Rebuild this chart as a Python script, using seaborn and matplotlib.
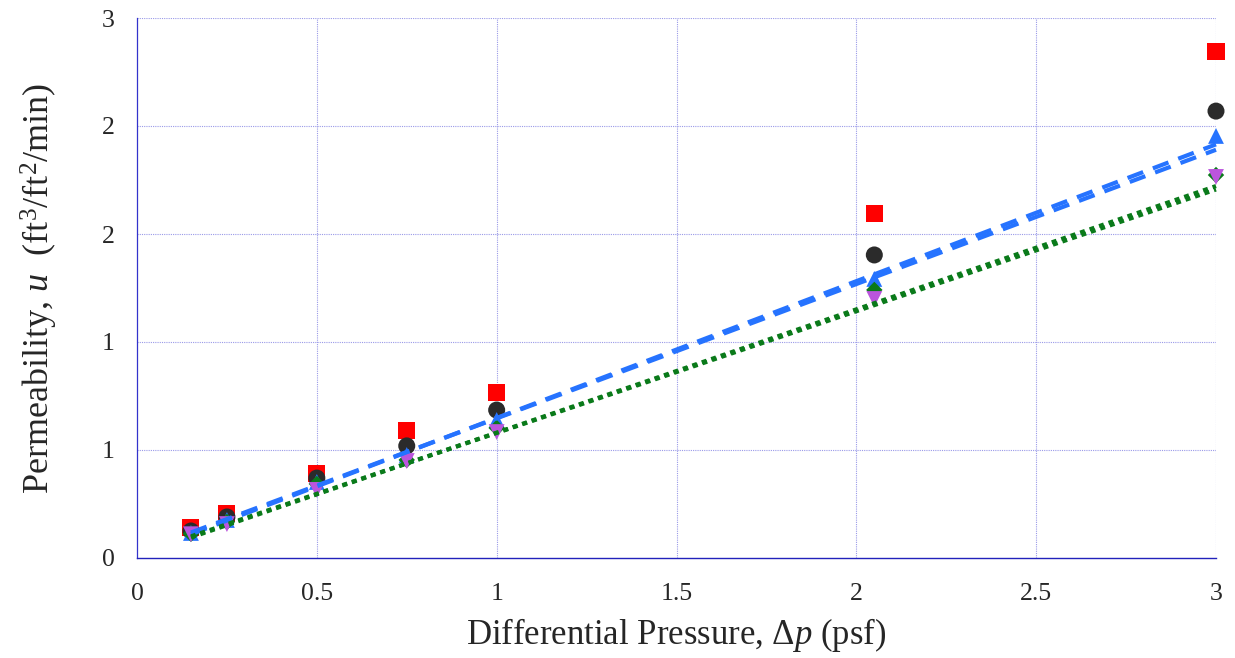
import numpy as np
import pandas as pd
import seaborn as sns
from matplotlib import pyplot as plt

# measured points
dp = [0.15, 0.25, 0.5, 0.75, 1.0, 2.05, 3.0]
u_square = [0.139, 0.208, 0.389, 0.588, 0.764, 1.597, 2.343]
u_circle = [0.125, 0.190, 0.370, 0.519, 0.685, 1.403, 2.069]
u_tri_up = [0.116, 0.176, 0.352, 0.477, 0.639, 1.292, 1.954]
u_diamond = [0.112, 0.167, 0.343, 0.454, 0.602, 1.241, 1.773]
u_tri_down = [0.110, 0.157, 0.315, 0.449, 0.583, 1.199, 1.764]

# fitted lines (end values)
fit_dp = [0.15, 3.0]
fit_blue_a = [0.110, 1.915]
fit_blue_b = [0.118, 1.890]
fit_green_a = [0.095, 1.722]
fit_green_b = [0.100, 1.706]

yticks = [0, 0.5, 1.0, 1.5, 2.0, 2.5]
ytick_labels = ["0", "1", "1", "2", "2", "3"]
xticks = [0, 0.5, 1, 1.5, 2, 2.5, 3]
xtick_labels = ["0", "0.5", "1", "1.5", "2", "2.5", "3"]

sns.set_style("white")
plt.rcParams['font.family'] = ['Liberation Serif', 'DejaVu Serif']
plt.rcParams['mathtext.fontset'] = 'custom'
plt.rcParams['mathtext.rm'] = 'Liberation Serif'
plt.rcParams['mathtext.it'] = 'Liberation Serif:italic'

fig = plt.figure(figsize=(12.35, 6.58), dpi=100)
ax = fig.add_axes([137 / 1235, 100 / 658, 1079 / 1235, 540 / 658])

grid_col = '#9a9ae8'
for x in xticks[1:]:
    ax.axvline(x, color=grid_col, lw=0.8, ls=(0, (1, 1)), zorder=0)
for y in yticks[1:]:
    ax.axhline(y, color=grid_col, lw=0.8, ls=(0, (1, 1)), zorder=0)

series = [
    (u_square, 's', '#ff0000', 150),
    (u_circle, 'o', '#2b2b2b', 150),
    (u_tri_up, '^', '#2673ff', 130),
    (u_diamond, 'D', '#0a7a1a', 70),
    (u_tri_down, 'v', '#bb55dd', 130),
]
for vals, mk, col, sz in series:
    df = pd.DataFrame({'dp': dp, 'u': vals})
    sns.scatterplot(data=df, x='dp', y='u', marker=mk, color=col, s=sz,
                    edgecolor='none', ax=ax, zorder=3, clip_on=False)

lines = [
    (fit_blue_a, '#2673ff', (0, (4, 2.5)), 3.0),
    (fit_blue_b, '#2673ff', (0, (4, 2.5)), 3.0),
    (fit_green_a, '#0a7a1a', (0, (1.2, 1.2)), 3.0),
    (fit_green_b, '#0a7a1a', (0, (1.2, 1.2)), 3.0),
]
for vals, col, ls, lw in lines:
    df = pd.DataFrame({'dp': fit_dp, 'u': vals})
    sns.lineplot(data=df, x='dp', y='u', color=col, lw=lw, linestyle=ls,
                 ax=ax, zorder=4, clip_on=False)

ax.set_xlim(0, 3.0)
ax.set_ylim(0, 2.5)
ax.set_xticks(xticks)
ax.set_xticklabels(xtick_labels, fontsize=18.5)
ax.set_yticks(yticks)
ax.set_yticklabels(ytick_labels, fontsize=18.5)
ax.tick_params(axis='both', direction='out', length=8, width=0.8,
               color='#8888ee', pad=10)
ax.tick_params(axis='y', pad=8)

for side in ['top', 'right']:
    ax.spines[side].set_visible(False)
ax.spines['left'].set_color('#3333cc')
ax.spines['left'].set_linewidth(0.9)
ax.spines['bottom'].set_color('#2222bb')
ax.spines['bottom'].set_linewidth(1.0)
ax.spines['bottom'].set_linestyle((0, (1, 1)))

ax.set_xlabel(r'Differential Pressure, $\Delta p$ (psf)', fontsize=25, labelpad=8)
ax.set_ylabel(r'Permeability, $u$  (ft$^3$/ft$^2$/min)', fontsize=26, labelpad=30)

fig.savefig('out.png', dpi=100)
plt.close(fig)
